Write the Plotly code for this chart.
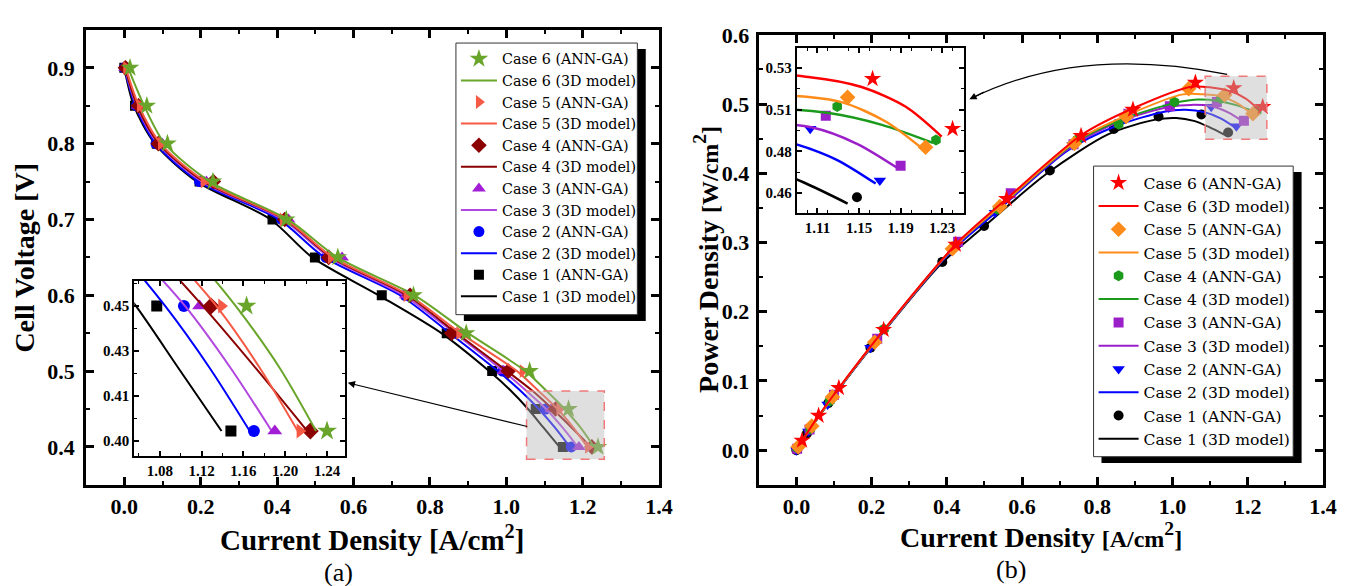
import plotly.graph_objects as go

W, H = 1354, 586
FONT = "Liberation Serif"
LFONT = "DejaVu Serif"

# ---------------- data ----------------
voltage = [0.9, 0.85, 0.8, 0.75, 0.7, 0.65, 0.6, 0.55, 0.5, 0.45, 0.4]
voltage_model = [0.9, 0.85, 0.8, 0.75, 0.7, 0.65, 0.6, 0.55, 0.5, 0.475, 0.45, 0.425, 0.4]

case_names = ["Case 1", "Case 2", "Case 3", "Case 4", "Case 5", "Case 6"]

# ANN-GA current density [A/cm2]
ann_i_case1 = [0.000, 0.028, 0.085, 0.197, 0.388, 0.499, 0.674, 0.844, 0.963, 1.077, 1.148]
ann_i_case2 = [0.000, 0.032, 0.083, 0.197, 0.412, 0.528, 0.735, 0.862, 0.990, 1.103, 1.170]
ann_i_case3 = [0.002, 0.035, 0.100, 0.215, 0.430, 0.570, 0.737, 0.883, 0.993, 1.118, 1.190]
ann_i_case4 = [0.003, 0.037, 0.089, 0.233, 0.420, 0.535, 0.748, 0.857, 1.005, 1.129, 1.224]
ann_i_case5 = [0.005, 0.041, 0.096, 0.208, 0.415, 0.541, 0.739, 0.877, 1.043, 1.139, 1.214]
ann_i_case6 = [0.015, 0.059, 0.113, 0.232, 0.424, 0.559, 0.757, 0.895, 1.061, 1.163, 1.240]

# ANN-GA power density [W/cm2]
ann_p_case1 = [0.000, 0.024, 0.068, 0.148, 0.272, 0.324, 0.404, 0.464, 0.482, 0.485, 0.459]
ann_p_case2 = [0.000, 0.027, 0.066, 0.148, 0.288, 0.343, 0.441, 0.474, 0.495, 0.496, 0.468]
ann_p_case3 = [0.002, 0.030, 0.080, 0.161, 0.301, 0.371, 0.442, 0.486, 0.497, 0.503, 0.476]
ann_p_case4 = [0.003, 0.031, 0.071, 0.175, 0.294, 0.348, 0.449, 0.471, 0.503, 0.508, 0.490]
ann_p_case5 = [0.005, 0.035, 0.077, 0.156, 0.291, 0.352, 0.443, 0.482, 0.522, 0.513, 0.486]
ann_p_case6 = [0.014, 0.050, 0.090, 0.174, 0.297, 0.363, 0.454, 0.492, 0.531, 0.523, 0.496]

# 3D model current density [A/cm2]
mod_i_case1 = [0.000, 0.025, 0.080, 0.190, 0.383, 0.492, 0.666, 0.830, 0.955, 1.010, 1.057, 1.098, 1.139]
mod_i_case2 = [0.000, 0.029, 0.082, 0.195, 0.405, 0.524, 0.722, 0.852, 0.978, 1.035, 1.085, 1.128, 1.166]
mod_i_case3 = [0.001, 0.032, 0.088, 0.203, 0.415, 0.537, 0.731, 0.865, 0.992, 1.050, 1.104, 1.148, 1.187]
mod_i_case4 = [0.002, 0.034, 0.091, 0.208, 0.420, 0.542, 0.740, 0.870, 1.002, 1.066, 1.121, 1.172, 1.221]
mod_i_case5 = [0.004, 0.038, 0.095, 0.213, 0.422, 0.546, 0.746, 0.880, 1.028, 1.082, 1.134, 1.176, 1.212]
mod_i_case6 = [0.010, 0.052, 0.106, 0.224, 0.428, 0.558, 0.760, 0.900, 1.050, 1.103, 1.1525, 1.195, 1.2295]

# 3D model power density [W/cm2]
mod_p_case1 = [0.000, 0.0213, 0.064, 0.1425, 0.2681, 0.3198, 0.3996, 0.4565, 0.4775, 0.4798, 0.4757, 0.4667, 0.4556]
mod_p_case2 = [0.000, 0.0247, 0.0656, 0.1463, 0.2835, 0.3406, 0.4332, 0.4686, 0.4890, 0.4916, 0.4883, 0.4794, 0.4664]
mod_p_case3 = [0.0009, 0.0272, 0.0704, 0.1523, 0.2905, 0.3491, 0.4386, 0.4758, 0.4960, 0.4988, 0.4968, 0.4879, 0.4748]
mod_p_case4 = [0.0018, 0.0289, 0.0728, 0.1560, 0.2940, 0.3523, 0.4440, 0.4785, 0.5010, 0.5064, 0.5045, 0.4981, 0.4884]
mod_p_case5 = [0.0036, 0.0323, 0.0760, 0.1598, 0.2954, 0.3549, 0.4476, 0.4840, 0.5140, 0.5140, 0.5103, 0.4998, 0.4848]
mod_p_case6 = [0.0090, 0.0442, 0.0848, 0.1680, 0.2996, 0.3627, 0.4560, 0.4950, 0.5250, 0.5239, 0.5186, 0.5079, 0.4918]

# inset tick labels
inset_a_yticks = [0.45, 0.43206, 0.41412, 0.39618]
inset_a_yticktext = ["0.45", "0.43", "0.41", "0.40"]
inset_a_yminor = [0.45897, 0.44103, 0.42309, 0.40515]
inset_b_yticks = [0.5288, 0.5063, 0.4838, 0.4613]
inset_b_yticktext = ["0.53", "0.51", "0.48", "0.46"]
inset_b_yminor = [0.51755, 0.49505, 0.47255]

ann_i = [ann_i_case1, ann_i_case2, ann_i_case3, ann_i_case4, ann_i_case5, ann_i_case6]
ann_p = [ann_p_case1, ann_p_case2, ann_p_case3, ann_p_case4, ann_p_case5, ann_p_case6]
mod_i = [mod_i_case1, mod_i_case2, mod_i_case3, mod_i_case4, mod_i_case5, mod_i_case6]
mod_p = [mod_p_case1, mod_p_case2, mod_p_case3, mod_p_case4, mod_p_case5, mod_p_case6]

# ---------------- styles ----------------
left_sym = ["square", "circle", "triangle-up", "diamond", "triangle-right", "star"]
left_size = [10, 11, 12, 12, 12, 14]
left_col = ["#000000", "#0000FF", "#A21ED6", "#8B0000", "#F65A45", "#6AA52B"]
left_lcol = ["#000000", "#0000FF", "#B146E0", "#8B0000", "#F65A45", "#6AA52B"]
right_sym = ["circle", "triangle-down", "square", "hexagon", "diamond", "star"]
right_size = [10, 11, 10, 11, 12, 13]
right_col = ["#000000", "#0000FF", "#9B1FC9", "#1C9A1C", "#FF8C1A", "#FF0000"]


def px(x):
    return x / W


def py(y):
    return 1 - y / H


fig = go.Figure()

for k in range(6):
    nm = case_names[k]
    # (a) main
    fig.add_trace(go.Scatter(x=mod_i[k], y=voltage_model, mode="lines", name=nm + " (3D model)",
                             line=dict(color=left_lcol[k], width=2, shape="spline", smoothing=0.8),
                             xaxis="x", yaxis="y", legend="legend"))
    fig.add_trace(go.Scatter(x=ann_i[k], y=voltage, mode="markers", name=nm + " (ANN-GA)",
                             marker=dict(symbol=left_sym[k], size=left_size[k], color=left_col[k]),
                             xaxis="x", yaxis="y", legend="legend"))
    # (a) inset
    fig.add_trace(go.Scatter(x=mod_i[k], y=voltage_model, mode="lines", showlegend=False,
                             line=dict(color=left_lcol[k], width=2, shape="spline", smoothing=0.8),
                             xaxis="x2", yaxis="y2"))
    fig.add_trace(go.Scatter(x=ann_i[k], y=voltage, mode="markers", showlegend=False,
                             marker=dict(symbol=left_sym[k], size=left_size[k] + 1, color=left_col[k]),
                             xaxis="x2", yaxis="y2"))
    # (b) main
    fig.add_trace(go.Scatter(x=mod_i[k], y=mod_p[k], mode="lines", name=nm + " (3D model)",
                             line=dict(color=right_col[k], width=2, shape="spline", smoothing=0.8),
                             xaxis="x3", yaxis="y3", legend="legend2"))
    fig.add_trace(go.Scatter(x=ann_i[k], y=ann_p[k], mode="markers", name=nm + " (ANN-GA)",
                             marker=dict(symbol=right_sym[k], size=right_size[k], color=right_col[k]),
                             xaxis="x3", yaxis="y3", legend="legend2"))
    # (b) inset
    fig.add_trace(go.Scatter(x=mod_i[k], y=mod_p[k], mode="lines", showlegend=False,
                             line=dict(color=right_col[k], width=2.5, shape="spline", smoothing=0.8),
                             xaxis="x4", yaxis="y4"))
    fig.add_trace(go.Scatter(x=ann_i[k], y=ann_p[k], mode="markers", showlegend=False,
                             marker=dict(symbol=right_sym[k], size=right_size[k], color=right_col[k]),
                             xaxis="x4", yaxis="y4"))


def axis(main=True, **kw):
    lw = 3 if main else 2
    d = dict(showline=True, linewidth=lw, linecolor="black", mirror="ticks",
             ticks="inside", ticklen=8 if main else 5, tickwidth=2.5 if main else 1.5,
             tickcolor="black", showgrid=False, zeroline=False,
             tickfont=dict(family=FONT, size=22 if main else 15, color="black", weight="bold"),
             minor=dict(ticks="inside", ticklen=4 if main else 3, tickwidth=2 if main else 1.2,
                        tickcolor="black", showgrid=False))
    for key, v in kw.items():
        if key == "minor":
            d["minor"].update(v)
        else:
            d[key] = v
    return d


# legend boxes (pixel positions)
LEG_A = (460.7, 31.7, 644.0, 309.0)
LEG_B = (1105.0, 157.3, 1306.7, 454.0)

fig.update_layout(
    width=W, height=H, margin=dict(l=0, r=0, t=0, b=0),
    paper_bgcolor="white", plot_bgcolor="white",
    xaxis=axis(domain=[px(87), px(666)], range=[-0.1, 1.4], tick0=0, dtick=0.2,
               tickformat=".1f", anchor="y", minor=dict(dtick=0.1)),
    yaxis=axis(domain=[py(482.7), py(18.3)], range=[0.35, 0.95], tick0=0, dtick=0.1,
               tickformat=".1f", anchor="x", minor=dict(dtick=0.05), ticklabelstandoff=4),
    xaxis2=axis(False, domain=[px(135.7), px(348.7)], range=[1.0555, 1.2573], tick0=1.08,
                dtick=0.04, tickformat=".2f", anchor="y2", minor=dict(dtick=0.02)),
    yaxis2=axis(False, domain=[py(453.3), py(274.3)], range=[0.3900, 0.4601], tickmode="array",
                tickvals=inset_a_yticks, ticktext=inset_a_yticktext, anchor="x2",
                minor=dict(tickmode="array", tickvals=inset_a_yminor)),
    xaxis3=axis(domain=[px(766.7), px(1336.7)], range=[-0.1, 1.4], tick0=0, dtick=0.2,
                tickformat=".1f", anchor="y3", minor=dict(dtick=0.1)),
    yaxis3=axis(domain=[py(482.7), py(23.3)], range=[-0.05, 0.6], tick0=0, dtick=0.1,
                tickformat=".1f", anchor="x3", minor=dict(dtick=0.05), ticklabelstandoff=2),
    xaxis4=axis(False, domain=[px(805), px(974.3)], range=[1.09, 1.2512], tick0=1.11,
                dtick=0.04, tickformat=".2f", anchor="y4", minor=dict(dtick=0.02)),
    yaxis4=axis(False, domain=[py(205), py(36.7)], range=[0.4506, 0.5397], tickmode="array",
                tickvals=inset_b_yticks, ticktext=inset_b_yticktext, anchor="x4",
                minor=dict(tickmode="array", tickvals=inset_b_yminor)),
    legend=dict(x=px(LEG_A[0]), y=py(LEG_A[1]), xanchor="left", yanchor="top",
                bgcolor="rgba(0,0,0,0)", borderwidth=0, traceorder="reversed", itemwidth=36,
                tracegroupgap=0, font=dict(family=LFONT, size=14.3, color="black")),
    legend2=dict(x=px(LEG_B[0]), y=py(LEG_B[1]), xanchor="left", yanchor="top",
                 bgcolor="rgba(0,0,0,0)", borderwidth=0, traceorder="reversed", itemwidth=40,
                 tracegroupgap=0, font=dict(family=LFONT, size=15.6, color="black")),
    showlegend=True,
)

shapes = []
# legend shadows and frames
for (l, t, r, b) in (LEG_A, LEG_B):
    shapes.append(dict(type="rect", xref="paper", yref="paper", x0=px(l + 8), x1=px(r + 8.5),
                       y0=py(b + 6.5), y1=py(t + 6), fillcolor="black", line=dict(width=0), layer="above"))
    shapes.append(dict(type="rect", xref="paper", yref="paper", x0=px(l), x1=px(r), y0=py(b), y1=py(t),
                       fillcolor="white", line=dict(color="#333333", width=1), layer="above"))
# zoom boxes
shapes.append(dict(type="rect", xref="x", yref="y", x0=1.053, x1=1.2565, y0=0.3836, y1=0.4737,
                   fillcolor="rgba(185,185,185,0.45)", line=dict(color="#F07878", width=1.5, dash="dash"),
                   layer="above"))
shapes.append(dict(type="rect", xref="x3", yref="y3", x0=1.087, x1=1.251, y0=0.449, y1=0.540,
                   fillcolor="rgba(185,185,185,0.45)", line=dict(color="#F07878", width=1.5, dash="dash"),
                   layer="above"))
# curved arrow (b)
x0, y0 = 1240, 63.7
x1, y1 = 1090, 33.5
x2, y2 = 981, 88.5
shapes.append(dict(type="path", xref="paper", yref="paper",
                   path=f"M {px(x0)},{py(y0)} Q {px(x1)},{py(y1)} {px(x2)},{py(y2)}",
                   line=dict(color="black", width=1.2), layer="above"))
fig.update_layout(shapes=shapes)


def label(x, y, text, size, bold=True, angle=0):
    return dict(x=px(x), y=py(y), xref="paper", yref="paper", showarrow=False,
                xanchor="center", yanchor="middle", text=text, textangle=angle,
                font=dict(family=FONT, size=size, color="black", weight="bold" if bold else "normal"))


annotations = [
    dict(x=px(351.4), y=py(378.6), xref="paper", yref="paper", ax=181, ay=44, text="",
         showarrow=True, arrowhead=2, arrowsize=1.2, arrowwidth=1.2, arrowcolor="black"),
    dict(x=px(979.5), y=py(89.2), xref="paper", yref="paper", ax=16, ay=-8, text="",
         showarrow=True, arrowhead=2, arrowsize=1.2, arrowwidth=1.2, arrowcolor="black"),
    label(375.6, 537, "Current Density [A/cm<sup>2</sup>]", 29),
    label(1052, 534, "Current Density <span style='font-size:24px'>[A/cm</span><sup>2</sup>"
                     "<span style='font-size:24px'>]</span>", 28),
    label(25, 251, "Cell Voltage [V]", 28, angle=-90),
    label(714.5, 253, "Power Density <span style='font-size:24px'>[W/cm</span><sup>2</sup>"
                      "<span style='font-size:24px'>]</span>", 28, angle=-90),
    label(342, 572, "(a)", 26, bold=False),
    label(1022, 569, "(b)", 26, bold=False),
]
fig.update_layout(annotations=annotations)

fig.write_html("out.html")
